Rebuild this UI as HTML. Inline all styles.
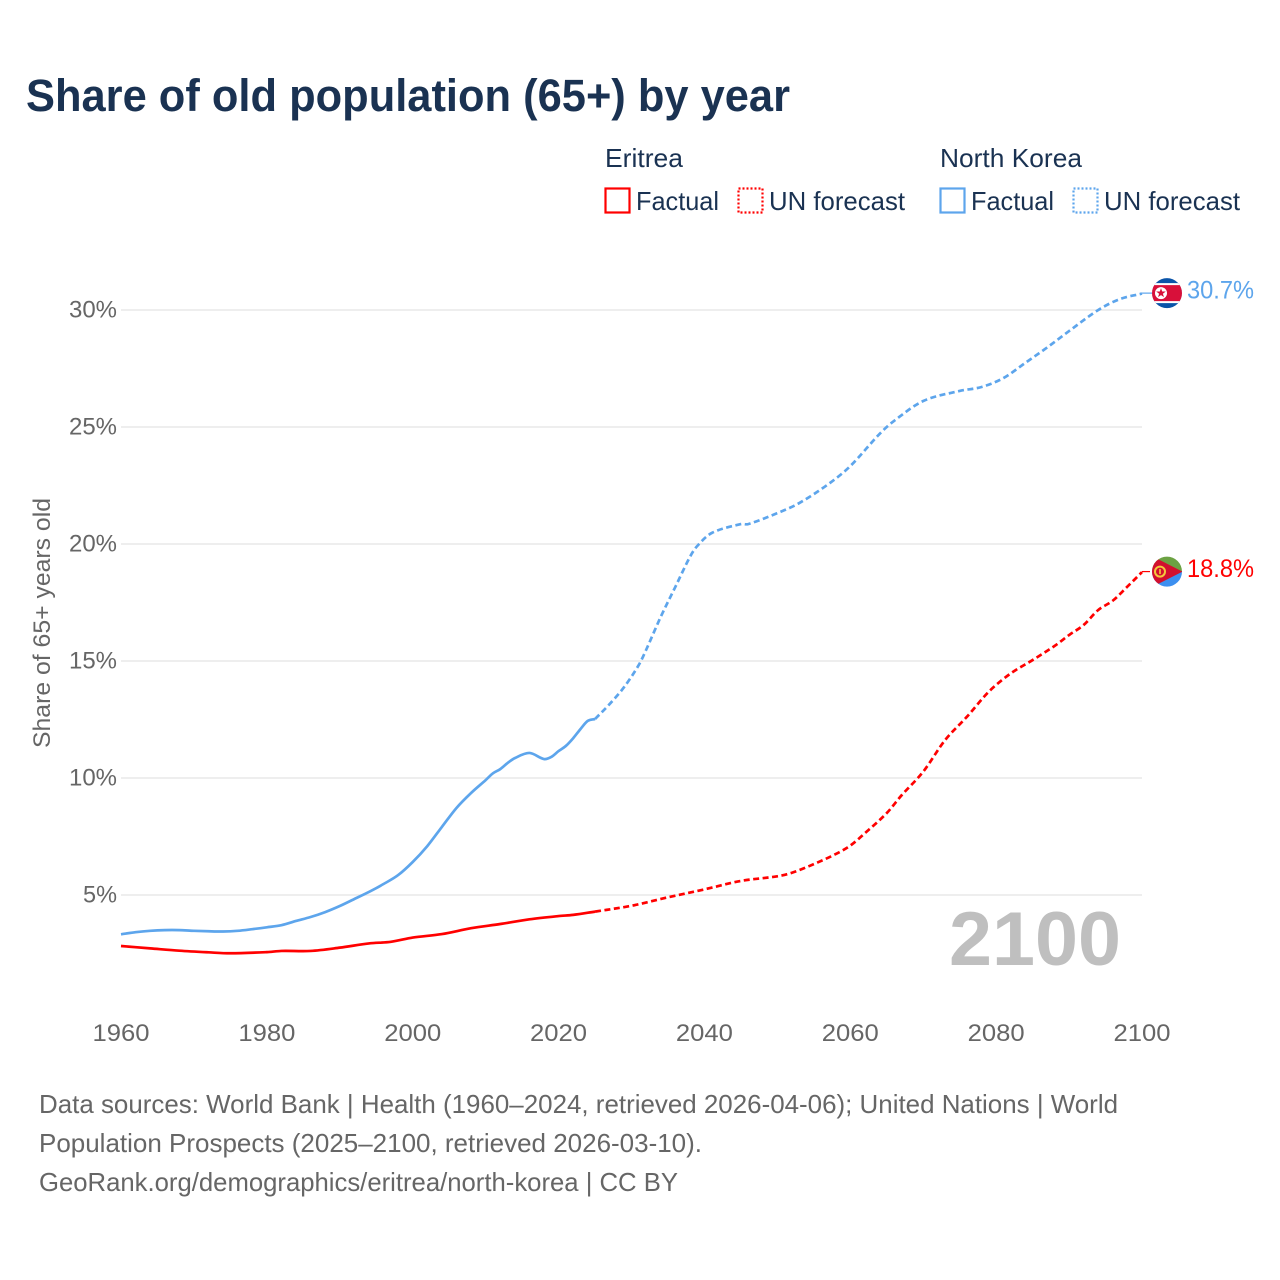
<!DOCTYPE html>
<html lang="en">
<head>
<meta charset="utf-8">
<title>Share of old population (65+) by year</title>
<style>
html,body{margin:0;padding:0;background:#fff;width:1280px;height:1280px;overflow:hidden}
svg{display:block}
text{font-family:"Liberation Sans",Arial,sans-serif}
</style>
</head>
<body>
<svg id="chart" xmlns="http://www.w3.org/2000/svg" width="1280" height="1280" viewBox="0 0 1280 1280">
  <rect x="0" y="0" width="1280" height="1280" fill="#ffffff"/>
  <text x="26" y="111" font-size="45" font-weight="700" fill="#1a3252" textLength="764" lengthAdjust="spacingAndGlyphs">Share of old population (65+) by year</text>

  <g>
    <text x="605" y="167" font-size="26" fill="#1a3252" textLength="78" lengthAdjust="spacingAndGlyphs">Eritrea</text>
    <rect x="605.5" y="188.5" width="24" height="24" fill="none" stroke="#ff0000" stroke-width="2.2"/>
    <text x="636" y="210" font-size="26" fill="#1a3252" textLength="83" lengthAdjust="spacingAndGlyphs">Factual</text>
    <rect x="738.5" y="188.5" width="24" height="24" fill="none" stroke="#ff0000" stroke-width="2.2" stroke-dasharray="2 2"/>
    <text x="769" y="210" font-size="26" fill="#1a3252" textLength="136" lengthAdjust="spacingAndGlyphs">UN forecast</text>
    <text x="940" y="167" font-size="26" fill="#1a3252" textLength="142" lengthAdjust="spacingAndGlyphs">North Korea</text>
    <rect x="940.5" y="188.5" width="24" height="24" fill="none" stroke="#5da5ec" stroke-width="2.2"/>
    <text x="971" y="210" font-size="26" fill="#1a3252" textLength="83" lengthAdjust="spacingAndGlyphs">Factual</text>
    <rect x="1073.5" y="188.5" width="24" height="24" fill="none" stroke="#5da5ec" stroke-width="2.2" stroke-dasharray="2 2"/>
    <text x="1104" y="210" font-size="26" fill="#1a3252" textLength="136" lengthAdjust="spacingAndGlyphs">UN forecast</text>
  </g>

  <g id="grid"></g>
  <g id="yticks"></g>
  <g id="xticks"></g>
  <text transform="translate(50,623) rotate(-90)" text-anchor="middle" font-size="24" fill="#666666" textLength="250" lengthAdjust="spacingAndGlyphs">Share of 65+ years old</text>
  <text x="949" y="965" font-size="76" font-weight="700" fill="#bfbfbf" textLength="172" lengthAdjust="spacingAndGlyphs">2100</text>
  <g id="series"></g>

  <g id="flag-kp">
    <clipPath id="clip-kp"><circle cx="0" cy="0" r="15"/></clipPath>
    <g clip-path="url(#clip-kp)">
      <rect x="-16" y="-16" width="32" height="32" fill="#0a54a8"/>
      <rect x="-16" y="-10" width="32" height="20" fill="#ffffff"/>
      <rect x="-16" y="-8" width="32" height="16" fill="#d8103a"/>
      <circle cx="-6" cy="0" r="6" fill="#ffffff"/>
      <polygon points="-6,-5 -4.8,-1.6 -1.2,-1.6 -4.1,0.6 -3,4 -6,2 -9,4 -7.9,0.6 -10.8,-1.6 -7.2,-1.6" fill="#d8103a"/>
    </g>
  </g>
  <g id="flag-er">
    <clipPath id="clip-er"><circle cx="0" cy="0" r="15"/></clipPath>
    <g clip-path="url(#clip-er)">
      <rect x="-16" y="-16" width="32" height="16" fill="#6ca243"/>
      <rect x="-16" y="0" width="32" height="16" fill="#3c8ff0"/>
      <polygon points="-16,-16 15.5,0 -16,16" fill="#d2102e"/>
      <circle cx="-7" cy="0" r="5" fill="none" stroke="#f4c93c" stroke-width="2"/>
      <rect x="-7.8" y="-2.5" width="1.6" height="5" fill="#f4c93c"/>
    </g>
  </g>
  <text id="label-kp" x="1187" font-size="25" fill="#5da5ec" textLength="67" lengthAdjust="spacingAndGlyphs"></text>
  <text id="label-er" x="1187" font-size="25" fill="#ff0000" textLength="67" lengthAdjust="spacingAndGlyphs"></text>

  <g font-size="26" fill="#666666">
    <text x="39" y="1113" textLength="1079" lengthAdjust="spacingAndGlyphs">Data sources: World Bank | Health (1960–2024, retrieved 2026-04-06); United Nations | World</text>
    <text x="39" y="1152" textLength="663" lengthAdjust="spacingAndGlyphs">Population Prospects (2025–2100, retrieved 2026-03-10).</text>
    <text x="39" y="1191" textLength="639" lengthAdjust="spacingAndGlyphs">GeoRank.org/demographics/eritrea/north-korea | CC BY</text>
  </g>
</svg>
<script>
const yTickValues = [5, 10, 15, 20, 25, 30];
const yTickLabels = ["5%", "10%", "15%", "20%", "25%", "30%"];
const xTickValues = [1960, 1980, 2000, 2020, 2040, 2060, 2080, 2100];

const kpFactualYears = [1960,1962,1964,1966,1968,1970,1972,1974,1976,1978,1980,1982,1984,1986,1988,1990,1992,1994,1996,1998,2000,2002,2004,2006,2008,2010,2011,2012,2013,2014,2016,2018,2019,2020,2021,2022,2023,2024,2025];
const kpFactualValues = [3.32,3.41,3.47,3.50,3.50,3.47,3.45,3.44,3.47,3.54,3.62,3.71,3.89,4.06,4.27,4.53,4.83,5.13,5.47,5.85,6.41,7.09,7.91,8.72,9.36,9.91,10.2,10.38,10.64,10.85,11.07,10.81,10.9,11.15,11.37,11.7,12.09,12.44,12.52];
const kpForecastYears = [2025,2027,2029,2031,2032,2034,2036,2038,2039,2041,2045,2046,2050,2053,2057,2060,2064,2066,2070,2075,2078,2081,2084,2087,2090,2094,2097,2100];
const kpForecastValues = [12.52,13.16,13.89,14.83,15.47,16.88,18.16,19.44,19.91,20.47,20.85,20.85,21.32,21.75,22.56,23.33,24.7,25.26,26.11,26.54,26.71,27.09,27.74,28.4,29.1,30.0,30.47,30.7];

const erFactualYears = [1960,1964,1968,1972,1975,1980,1982,1986,1990,1994,1997,2000,2004,2008,2012,2016,2020,2022,2025];
const erFactualValues = [2.82,2.72,2.62,2.55,2.51,2.56,2.61,2.61,2.75,2.93,3.0,3.18,3.33,3.58,3.76,3.96,4.10,4.15,4.29];
const erForecastYears = [2025,2030,2035,2040,2045,2050,2052,2055,2058,2060,2062,2065,2067,2070,2073,2076,2079,2082,2085,2088,2090,2092,2094,2096,2098,2100];
const erForecastValues = [4.29,4.54,4.90,5.24,5.6,5.80,5.95,6.32,6.75,7.11,7.64,8.5,9.25,10.27,11.62,12.62,13.69,14.47,15.04,15.64,16.11,16.54,17.18,17.58,18.18,18.8];

const SVG_NS = "http://www.w3.org/2000/svg";
function xScale(year) { return 121 + (year - 1960) * (1142 - 121) / 140; }
function yScale(value) { return 1012 - value * 23.4; }

function linePath(years, values) {
  const pts = years.map(function (yr, i) { return [xScale(yr), yScale(values[i])]; });
  let d = "M" + pts[0][0].toFixed(2) + " " + pts[0][1].toFixed(2);
  for (let i = 0; i < pts.length - 1; i++) {
    const p0 = pts[Math.max(0, i - 1)];
    const p1 = pts[i];
    const p2 = pts[i + 1];
    const p3 = pts[Math.min(pts.length - 1, i + 2)];
    const dx = p2[0] - p1[0];
    const m1 = (p2[1] - p0[1]) / (p2[0] - p0[0]);
    const m2 = (p3[1] - p1[1]) / (p3[0] - p1[0]);
    d += " C" + (p1[0] + dx / 3).toFixed(2) + " " + (p1[1] + m1 * dx / 3).toFixed(2) +
         " " + (p2[0] - dx / 3).toFixed(2) + " " + (p2[1] - m2 * dx / 3).toFixed(2) +
         " " + p2[0].toFixed(2) + " " + p2[1].toFixed(2);
  }
  return d;
}

const gridGroup = document.getElementById("grid");
const yTickGroup = document.getElementById("yticks");
yTickValues.forEach(function (v, i) {
  const line = document.createElementNS(SVG_NS, "line");
  
  
  line.setAttribute("x1", xScale(1960));
  line.setAttribute("x2", xScale(2100));
  line.setAttribute("y1", yScale(v));
  line.setAttribute("y2", yScale(v));
  line.setAttribute("stroke", "#e9e9e9");
  line.setAttribute("stroke-width", "1.5");
  gridGroup.appendChild(line);

  const label = document.createElementNS(SVG_NS, "text");
  
  
  label.setAttribute("x", 117);
  label.setAttribute("y", yScale(v) + 7.5);
  label.setAttribute("text-anchor", "end");
  label.setAttribute("font-size", "24");
  label.setAttribute("fill", "#666666");
  label.setAttribute("textLength", yTickLabels[i].length === 2 ? 34 : 48);
  label.setAttribute("lengthAdjust", "spacingAndGlyphs");
  label.textContent = yTickLabels[i];
  yTickGroup.appendChild(label);
});

const xTickGroup = document.getElementById("xticks");
xTickValues.forEach(function (yr) {
  const label = document.createElementNS(SVG_NS, "text");
  
  
  label.setAttribute("x", xScale(yr));
  label.setAttribute("y", 1041);
  label.setAttribute("text-anchor", "middle");
  label.setAttribute("font-size", "24");
  label.setAttribute("fill", "#666666");
  label.setAttribute("textLength", 57);
  label.setAttribute("lengthAdjust", "spacingAndGlyphs");
  label.textContent = String(yr);
  xTickGroup.appendChild(label);
});

const seriesGroup = document.getElementById("series");
function addLine(years, values, color, width, dash, name) {
  const path = document.createElementNS(SVG_NS, "path");
  
  
  path.setAttribute("d", linePath(years, values));
  path.setAttribute("fill", "none");
  path.setAttribute("stroke", color);
  path.setAttribute("stroke-width", width);
  path.setAttribute("stroke-linejoin", "round");
  if (dash) path.setAttribute("stroke-dasharray", dash);
  seriesGroup.appendChild(path);
}
addLine(kpFactualYears, kpFactualValues, "#5da5ec", 2.7, null, "north-korea-factual-line");
addLine(kpForecastYears, kpForecastValues, "#5da5ec", 2.7, "6 3.5", "north-korea-forecast-line");
addLine(erFactualYears, erFactualValues, "#ff0000", 2.7, null, "eritrea-factual-line");
addLine(erForecastYears, erForecastValues, "#ff0000", 2.7, "6 3.5", "eritrea-forecast-line");

function addConnector(y, color, x2, name) {
  const line = document.createElementNS(SVG_NS, "line");
  
  
  line.setAttribute("x1", xScale(2100));
  line.setAttribute("x2", x2);
  line.setAttribute("y1", y);
  line.setAttribute("y2", y);
  line.setAttribute("stroke", color);
  line.setAttribute("stroke-width", "1.2");
  seriesGroup.appendChild(line);
}
const kpEnd = kpForecastValues[kpForecastValues.length - 1];
const erEnd = erForecastValues[erForecastValues.length - 1];
addConnector(yScale(kpEnd) - 0.5, "#5da5ec", 1152, "north-korea-connector");
addConnector(yScale(erEnd) - 0.5, "#ff0000", 1150, "eritrea-connector");

document.getElementById("flag-kp").setAttribute("transform", "translate(1167," + (yScale(kpEnd) - 0.5) + ")");
document.getElementById("flag-er").setAttribute("transform", "translate(1167," + (yScale(erEnd) - 0.5) + ")");
const labelKp = document.getElementById("label-kp");
labelKp.setAttribute("y", yScale(kpEnd) + 5);
labelKp.textContent = kpEnd.toFixed(1) + "%";
const labelEr = document.getElementById("label-er");
labelEr.setAttribute("y", yScale(erEnd) + 5);
labelEr.textContent = erEnd.toFixed(1) + "%";
</script>
</body>
</html>
